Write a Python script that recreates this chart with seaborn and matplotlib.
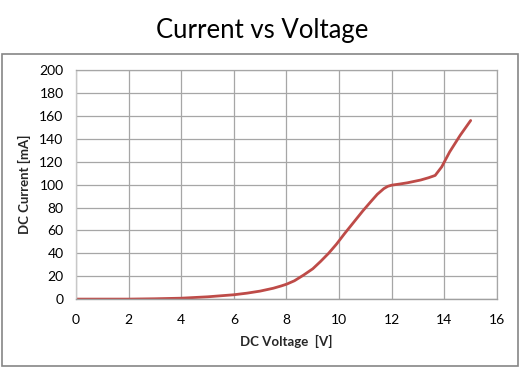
import matplotlib
matplotlib.use("Agg")
import matplotlib.pyplot as plt
import seaborn as sns
import pandas as pd
from matplotlib.patches import Rectangle

voltage = [0, 1, 2, 3, 4, 5, 6, 6.5, 7, 7.5, 7.8, 8, 8.3, 8.65, 9, 9.3, 9.6, 9.9,
           10.2, 10.55, 10.9, 11.2, 11.45, 11.7, 11.85, 12, 12.3, 12.6, 13.1,
           13.4, 13.65, 13.9, 14.2, 14.6, 15]
current = [0, 0, 0, 0.3, 0.8, 2, 3.8, 5.2, 7, 9.5, 11.5, 13, 16, 21, 26.5, 33, 40,
           48, 57, 67, 77, 85, 91.5, 96.5, 98.5, 99.5, 100.5, 101.6, 104,
           106, 108, 115.5, 128.5, 143, 156]
x_ticks = [0, 2, 4, 6, 8, 10, 12, 14, 16]
y_ticks = [0, 20, 40, 60, 80, 100, 120, 140, 160, 180, 200]

sns.set_theme(style="white")
plt.rcParams['font.family'] = ['Lato', 'DejaVu Sans']

df = pd.DataFrame({"V": voltage, "I": current})

fig = plt.figure(figsize=(5.21, 3.67), dpi=100)
fig.patch.set_facecolor("white")
fig.patches.append(Rectangle((0.004, 0.003), 0.990, 0.850, transform=fig.transFigure,
                             fill=False, edgecolor="#868686", linewidth=1.2))
ax = fig.add_axes([0.1459, 0.185, 0.808, 0.624])
sns.lineplot(data=df, x="V", y="I", ax=ax, color="#BE4B48", linewidth=2.0)
ax.lines[0].set_solid_joinstyle("round")
ax.lines[0].set_solid_capstyle("round")

ax.set_xlim(0, 16)
ax.set_ylim(0, 200)
ax.set_xticks(x_ticks)
ax.set_yticks(y_ticks)
ax.grid(True, color="#a6a6a6", linewidth=0.9)
ax.set_axisbelow(True)
for s in ["top", "right"]:
    ax.spines[s].set_visible(True)
    ax.spines[s].set_color("#a6a6a6")
    ax.spines[s].set_linewidth(0.9)
ax.spines["left"].set_color("#c8c8c8")
ax.spines["bottom"].set_color("#a0a0a0")
ax.spines["left"].set_linewidth(1.0)
ax.spines["bottom"].set_linewidth(1.0)
ax.tick_params(axis="both", direction="out", length=4, width=0.9, color="#8c8c8c",
               labelsize=10, labelcolor="black", pad=5)
ax.tick_params(axis="x", pad=7)
ax.set_xlabel("DC Voltage  [V]", fontsize=9.5, fontweight="bold", labelpad=6)
ax.set_ylabel("DC Current [mA]", fontsize=9.5, fontweight="bold", labelpad=6)

fig.text(0.503, 0.918, "Current vs Voltage", ha="center", va="center", fontsize=18.5,
         color="black")

fig.savefig("out.png", dpi=100)
